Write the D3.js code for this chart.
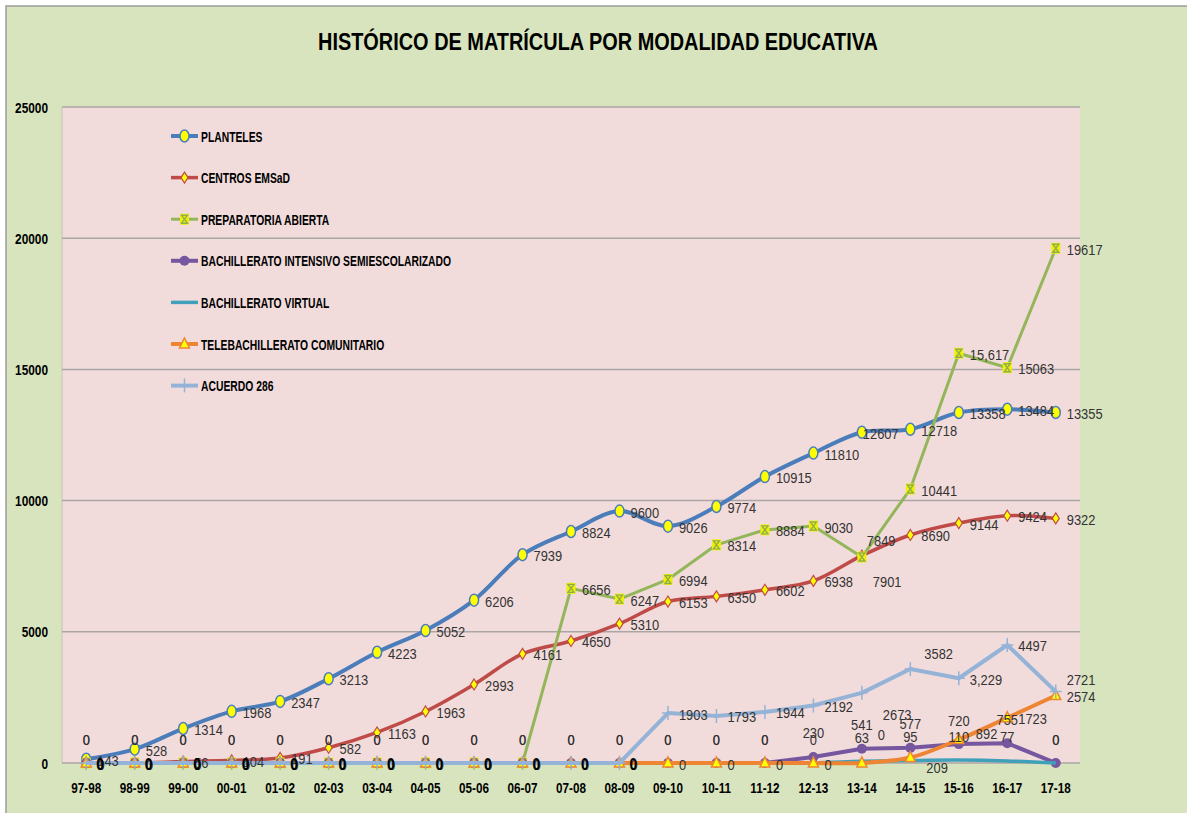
<!doctype html>
<html>
<head>
<meta charset="utf-8"/>
<title>Histórico de matrícula por modalidad educativa</title>
<script src="https://d3js.org/d3.v7.min.js"></script>
<style>
body { margin:0; background:#fff; }
svg { display:block; font-family:"Liberation Sans", Arial, sans-serif; }
</style>
</head>
<body>
<script>
// ciclos escolares y valores
var ciclos = ["97-98","98-99","99-00","00-01","01-02","02-03","03-04","04-05","05-06","06-07",
              "07-08","08-09","09-10","10-11","11-12","12-13","13-14","14-15","15-16","16-17","17-18"];

var planteles     = [143,528,1314,1968,2347,3213,4223,5052,6206,7939,8824,9600,9026,9774,10915,11810,12607,12718,13358,13484,13355];
var emsad         = [0,0,56,104,191,582,1163,1963,2993,4161,4650,5310,6153,6350,6602,6938,7901,8690,9144,9424,9322];
var prepAbierta   = [0,0,0,0,0,0,0,0,0,0,6656,6247,6994,8314,8884,9030,7849,10441,15617,15063,19617];
var bachIntensivo = [0,0,0,0,0,0,0,0,0,0,0,0,0,0,0,230,541,577,720,755,0];
var bachVirtual   = [0,0,0,0,0,0,0,0,0,0,0,0,0,0,0,0,63,95,110,77,0];
var telebach      = [0,0,0,0,0,0,0,0,0,0,0,0,0,0,0,0,0,209,892,1723,2574];
var acuerdo286    = [0,0,0,0,0,0,0,0,0,0,0,0,1903,1793,1944,2192,2673,3582,3229,4497,2721];

var ticksY = [0,5000,10000,15000,20000,25000];

var series = [
  {nombre:"PLANTELES", datos:planteles, color:"#4A7DBA", ancho:4, marca:"elipse", suave:true, etiqueta:"derecha"},
  {nombre:"CENTROS EMSaD", datos:emsad, color:"#BE4B48", ancho:3.5, marca:"rombo", suave:true, etiqueta:"derecha"},
  {nombre:"PREPARATORIA ABIERTA", datos:prepAbierta, color:"#93B65A", ancho:3, marca:"cuadro", suave:false, etiqueta:"derecha"},
  {nombre:"BACHILLERATO INTENSIVO SEMIESCOLARIZADO", datos:bachIntensivo, color:"#76579F", ancho:4, marca:"circulo", suave:false, etiqueta:"arriba"},
  {nombre:"BACHILLERATO VIRTUAL", datos:bachVirtual, color:"#40A0BA", ancho:3.5, marca:"ninguna", suave:true, etiqueta:"arriba"},
  {nombre:"TELEBACHILLERATO COMUNITARIO", datos:telebach, color:"#EE8533", ancho:4, marca:"triangulo", suave:true, etiqueta:"derecha"},
  {nombre:"ACUERDO 286", datos:acuerdo286, color:"#95B3D7", ancho:4, marca:"cruz", suave:false, etiqueta:"derecha"}
];

// etiquetas movidas a mano en el original: [dx, dy del centro]
var ajustes = {
  "PLANTELES": {16:[1,1]},
  "CENTROS EMSaD": {16:[11,26]},
  "PREPARATORIA ABIERTA": {16:[5,-17]},
  "TELEBACHILLERATO COMUNITARIO": {16:[16,-29], 17:[16,10], 18:[17,-6]},
  "ACUERDO 286": {16:[21,22], 17:[14,-16], 20:[11,-12]}
};
var conComa = {"PREPARATORIA ABIERTA":18, "ACUERDO 286":18};

var W = 1187, H = 813;
var svg = d3.select("body").append("svg").attr("width", W).attr("height", H);

svg.append("rect").attr("x",6).attr("y",6).attr("width",W+10).attr("height",H+10)
   .attr("fill","#D7E4BD").attr("stroke","#9C9C9C").attr("stroke-width",1.5);

var x = d3.scaleBand().domain(ciclos).range([62,1080]);
var y = d3.scaleLinear().domain([0,25000]).range([763,107]);
function cx(c) { return x(c) + x.bandwidth()/2; }

// area de trazado
svg.append("rect").attr("x",62).attr("y",107).attr("width",1018).attr("height",656).attr("fill","#F2DCDB");
svg.append("line").attr("x1",62).attr("x2",1080).attr("y1",107).attr("y2",107).attr("stroke","#ABA6A6").attr("stroke-width",1.5);
svg.append("line").attr("x1",62).attr("x2",62).attr("y1",107).attr("y2",763).attr("stroke","#C2C2BC").attr("stroke-width",1);

svg.selectAll(".grid").data(ticksY.slice(1,5)).enter().append("line")
   .attr("x1",62).attr("x2",1080).attr("y1",function(d){return y(d);}).attr("y2",function(d){return y(d);})
   .attr("stroke","#ABA6A6").attr("stroke-width",1.5);
svg.append("line").attr("x1",62).attr("x2",1080).attr("y1",763).attr("y2",763).attr("stroke","#ABA6A6").attr("stroke-width",1.5);

function texto(g, px, py, str, size, peso, sx, anclaje, color) {
  return g.append("text")
    .attr("transform","translate("+px+","+py+") scale("+sx+",1)")
    .attr("text-anchor",anclaje)
    .style("font-size",size+"px").style("font-weight",peso)
    .attr("fill",color).text(str);
}

// titulo
svg.append("text").attr("x",598).attr("y",50).attr("text-anchor","middle")
   .attr("textLength",560).attr("lengthAdjust","spacingAndGlyphs")
   .style("font-size","24px").style("font-weight","bold").attr("fill","#000")
   .text("HISTÓRICO DE MATRÍCULA POR MODALIDAD EDUCATIVA");

// ejes
ticksY.forEach(function(t){ texto(svg, 48, y(t)+5.5, t, 15, "bold", 0.79, "end", "#000"); });
ciclos.forEach(function(c){ texto(svg, cx(c), 793, c, 15, "bold", 0.78, "middle", "#000"); });

function marca(g, s, px, py) {
  if (s.marca == "elipse") {
    g.append("ellipse").attr("cx",px).attr("cy",py).attr("rx",4.5).attr("ry",6)
     .attr("fill","#FFFF00").attr("stroke",s.color).attr("stroke-width",1.5);
  } else if (s.marca == "rombo") {
    g.append("path").attr("d","M"+px+","+(py-5.5)+"L"+(px+3.5)+","+py+"L"+px+","+(py+5.5)+"L"+(px-3.5)+","+py+"Z")
     .attr("fill","#FFFF00").attr("stroke",s.color).attr("stroke-width",1.2);
  } else if (s.marca == "cuadro") {
    g.append("rect").attr("x",px-4.5).attr("y",py-5.5).attr("width",9).attr("height",11).attr("fill","#F0F000");
    g.append("path").attr("d","M"+(px-3)+","+(py-4)+"L"+(px+3)+","+(py-4)+"L"+(px-3)+","+(py+4)+"L"+(px+3)+","+(py+4)+"Z")
     .attr("fill","none").attr("stroke","#8FAE4E").attr("stroke-width",1.4);
  } else if (s.marca == "circulo") {
    g.append("circle").attr("cx",px).attr("cy",py).attr("r",5).attr("fill",s.color);
  } else if (s.marca == "triangulo") {
    g.append("path").attr("d","M"+px+","+(py-6)+"L"+(px+5)+","+(py+4)+"L"+(px-5)+","+(py+4)+"Z")
     .attr("fill","#FFFF00").attr("stroke",s.color).attr("stroke-width",1.5);
  } else if (s.marca == "cruz") {
    g.append("path").attr("d","M"+px+","+(py-7)+"L"+px+","+(py+7)+"M"+(px-6)+","+py+"L"+(px+6)+","+py)
     .attr("stroke",s.color).attr("stroke-width",1.5);
  }
}

// series
series.forEach(function(s){
  var g = svg.append("g");
  var linea = d3.line()
    .x(function(d,i){ return cx(ciclos[i]); })
    .y(function(d){ return y(d); })
    .curve(s.suave ? d3.curveCatmullRom.alpha(0.5) : d3.curveLinear);
  g.append("path").datum(s.datos).attr("d",linea).attr("fill","none")
   .attr("stroke",s.color).attr("stroke-width",s.ancho).attr("stroke-linejoin","round");
  s.datos.forEach(function(d,i){ marca(g, s, cx(ciclos[i]), y(d)); });
});

// etiquetas de datos
var fmtComa = d3.format(",");
series.forEach(function(s){
  var g = svg.append("g");
  s.datos.forEach(function(d,i){
    var px = cx(ciclos[i]), py = y(d);
    var aj = (ajustes[s.nombre] || {})[i];
    var str = (conComa[s.nombre] === i) ? fmtComa(d) : String(d);
    if (s.etiqueta == "arriba") {
      var dx = aj ? aj[0] : 0, dc = aj ? aj[1] : -24;
      texto(g, px+dx, py+dc+5.5, str, 15, "normal", 0.86, "middle", "#333");
    } else {
      var dx2 = aj ? aj[0] : 11, dc2 = aj ? aj[1] : 1;
      if (s.nombre == "ACUERDO 286" && d === 0) {
        texto(g, px+dx2-1, py+dc2+6, str, 16, "bold", 0.85, "start", "#000");
      } else {
        texto(g, px+dx2, py+dc2+5.5, str, 15, "normal", 0.86, "start", "#333");
      }
    }
  });
});

// leyenda
var ley = svg.append("g");
series.forEach(function(s,i){
  var ly = 136 + i*41.6;
  ley.append("line").attr("x1",171).attr("x2",198).attr("y1",ly).attr("y2",ly)
     .attr("stroke",s.color).attr("stroke-width",s.ancho);
  marca(ley, s, 184.5, ly);
  texto(ley, 201, ly+5.5, s.nombre, 15, "bold", 0.69, "start", "#000");
});
</script>
</body>
</html>
